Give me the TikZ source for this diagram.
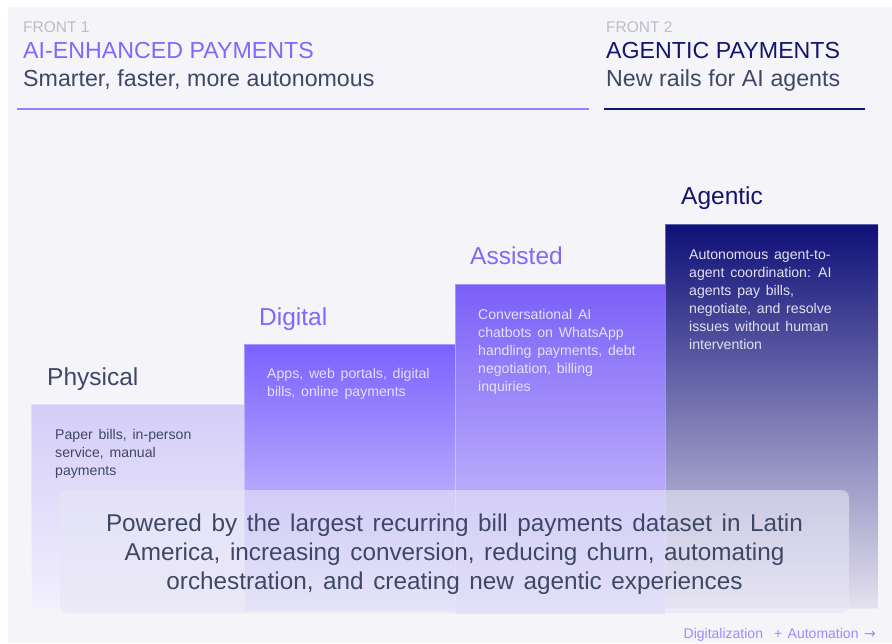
\documentclass[tikz,border=0pt]{standalone}
\usepackage{fontspec}
\setmainfont{Liberation Sans}
\newfontfamily\arrowfont{DejaVu Sans}

\definecolor{panelbg}{HTML}{F4F4F9}
\definecolor{frontgray}{HTML}{BDBDC6}
\definecolor{violet}{HTML}{8069FA}
\definecolor{navy}{HTML}{14146E}
\definecolor{slate}{HTML}{3E4866}
\definecolor{paletext}{HTML}{E4E0FF}
\definecolor{agentext}{HTML}{E2E1EF}
\definecolor{hint}{HTML}{9D8CFB}

\tikzset{
  lbl/.style={anchor=base west, inner sep=0pt},
  frontcap/.style={lbl, font=\fontsize{15.5}{16}\selectfont, text=frontgray},
  headline/.style={lbl, font={\fontsize{23.2}{24}\selectfont\spaceskip=6.6pt\relax}},
  steplabel/.style={lbl, font=\fontsize{24.5}{26}\selectfont},
  desc/.style={anchor=north west, inner sep=0pt, align=left,
               font={\fontsize{14.1}{18}\selectfont\spaceskip=5.8pt\relax}},
  bar/.style={draw=white, draw opacity=0.35, line width=0.7pt},
}

\begin{document}
\begin{tikzpicture}[x=1pt,y=-1pt]
\useasboundingbox (0,0) rectangle (892,643);
\fill[white] (0,0) rectangle (892,643);
\fill[panelbg] (8,7) rectangle (892,643);

% header: two fronts
\node[frontcap] (f1) at (23,32) {FRONT 1};
\node[headline, text=violet] (h1) at (23,58) {AI-ENHANCED PAYMENTS};
\node[headline, text=slate] (s1) at (23,86) {Smarter, faster, more autonomous};
\coordinate (r1a) at (17,109);
\coordinate (r1b) at (589,109);
\draw[violet!85, line width=2pt] (r1a) -- (r1b);

\node[frontcap] (f2) at (606,32) {FRONT 2};
\node[headline, text=navy] (h2) at (606,58) {AGENTIC PAYMENTS};
\node[headline, text=slate] (s2) at (606,86) {New rails for AI agents};
\coordinate (r2a) at (604,109);
\coordinate (r2b) at (865,109);
\draw[navy, line width=2pt] (r2a) -- (r2b);

% staircase of stages
\shade[bar, top color={rgb,255:red,213;green,205;blue,248},
       bottom color={rgb,255:red,242;green,239;blue,253}]
  (31,404) rectangle (244,608);
\shade[bar, top color={rgb,255:red,123;green,97;blue,255},
       middle color={rgb,255:red,194;green,185;blue,249},
       bottom color={rgb,255:red,228;green,224;blue,251}]
  (244,344) rectangle (455,610);
\shade[bar, top color={rgb,255:red,122;green,95;blue,248},
       middle color={rgb,255:red,161;green,146;blue,250},
       bottom color={rgb,255:red,222;green,216;blue,251}]
  (455,284) rectangle (665,613);
\shade[bar, top color={rgb,255:red,15;green,15;blue,120},
       middle color={rgb,255:red,160;green,157;blue,187},
       bottom color={rgb,255:red,228;green,225;blue,238}]
  (665,224) rectangle (878,608);

% stage titles
\node[steplabel, text=slate] (physical) at (47,385) {Physical};
\node[steplabel, text=violet] (digital) at (259,325) {Digital};
\node[steplabel, text=violet] (assisted) at (470,264) {Assisted};
\node[steplabel, text=navy] (agentic) at (681,204) {Agentic};

% stage descriptions
\node[desc, text=slate] (dphys) at (55,429)
  {Paper bills, in-person\\service, manual\\payments};
\node[desc, text=paletext] (ddig) at (267,368)
  {Apps, web portals, digital\\bills, online payments};
\node[desc, text=paletext] (dass) at (478,309)
  {Conversational AI\\chatbots on WhatsApp\\handling payments, debt\\negotiation, billing\\inquiries};
\node[desc, text=agentext] (dagt) at (689,250)
  {Autonomous agent-to-\\agent coordination: AI\\agents pay bills,\\negotiate, and resolve\\issues without human\\intervention};

% translucent summary card
\fill[fill={rgb,255:red,230;green,230;blue,245}, fill opacity=0.6,
      rounded corners=8pt] (60,490) rectangle (849,613);
\node[anchor=north, inner sep=0pt, align=center, text=slate,
      font={\fontsize{24.3}{29}\selectfont\spaceskip=9.6pt\relax}] (summary) at (454.5,514)
  {Powered by the largest recurring bill payments dataset in Latin\\
   America, increasing conversion, reducing churn, automating\\
   orchestration, and creating new agentic experiences};

% axis hint
\node[anchor=base east, inner sep=0pt, text=hint,
      font={\fontsize{14}{15}\selectfont\spaceskip=5.5pt\relax}] (axis) at (876,638)
  {Digitalization\ \ + Automation {\arrowfont →}};
\end{tikzpicture}
\end{document}
